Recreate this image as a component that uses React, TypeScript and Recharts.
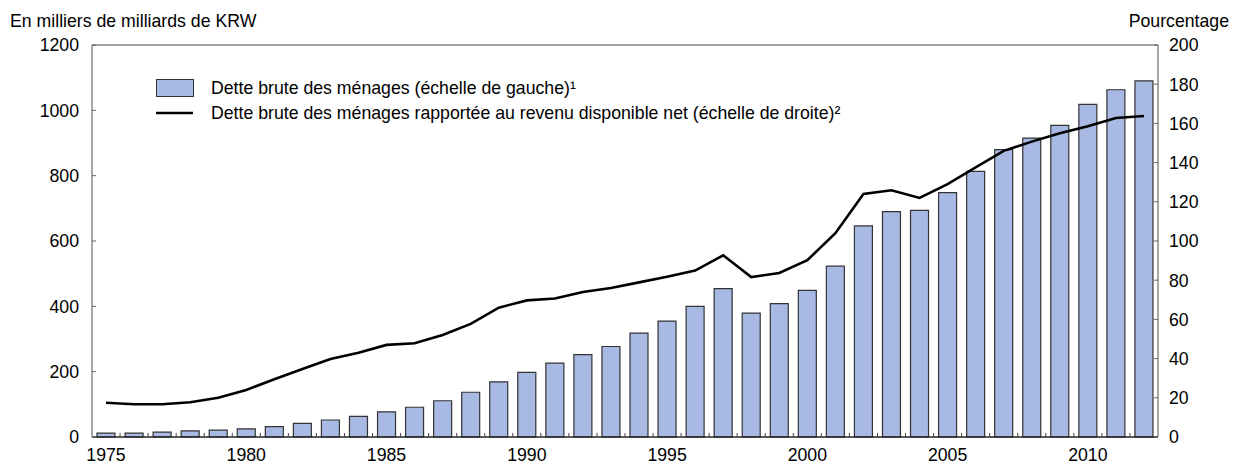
import React from 'react';
import { ComposedChart, Bar, Line, XAxis, YAxis, ReferenceLine, Legend } from 'recharts';

const years = [1975, 1976, 1977, 1978, 1979, 1980, 1981, 1982, 1983, 1984, 1985, 1986, 1987, 1988, 1989, 1990, 1991, 1992, 1993, 1994, 1995, 1996, 1997, 1998, 1999, 2000, 2001, 2002, 2003, 2004, 2005, 2006, 2007, 2008, 2009, 2010, 2011, 2012];
const debt = [12, 12, 15, 19, 21, 25, 32, 42, 52, 63, 77, 91, 111, 137, 169, 198, 226, 252, 277, 318, 355, 400, 454, 379, 408, 449, 523, 646, 690, 694, 748, 813, 880, 915, 954, 1018, 1063, 1090];
const ratio = [17.5, 16.7, 16.7, 17.7, 20, 24, 29.5, 34.7, 39.8, 43, 47, 47.8, 52, 57.7, 66, 69.7, 70.7, 74, 76, 78.9, 81.8, 84.9, 92.7, 81.6, 83.7, 90.2, 104, 124, 125.9, 122, 129, 137.6, 146, 150.7, 155, 158.5, 162.8, 163.8];
const leftTicks = [0, 200, 400, 600, 800, 1000, 1200];
const rightTicks = [0, 20, 40, 60, 80, 100, 120, 140, 160, 180, 200];

const barName = 'Dette brute des ménages (échelle de gauche)¹';
const lineName = 'Dette brute des ménages rapportée au revenu disponible net (échelle de droite)²';
const leftTitle = 'En milliers de milliards de KRW';
const rightTitle = 'Pourcentage';

const data = years.map((y, i) => ({ year: y, debt: debt[i], ratio: ratio[i] }));

const W = 1234;
const H = 464;
const LEFT_W = 92;
const RIGHT_W = 76;
const TOP = 45;
const XAXIS_H = 27;
const HALF_BAND = (W - LEFT_W - RIGHT_W) / years.length / 2;
const FONT = '"Liberation Sans", Arial, sans-serif';
const FS = 17.7;

const XTick = (props: any) => {
  const { x, y, payload, index } = props;
  return (
    <g>
      {index > 0 && (
        <line x1={x - HALF_BAND} x2={x - HALF_BAND} y1={y} y2={y - 4} stroke="#444" strokeWidth={1} />
      )}
      {payload.value % 5 === 0 && (
        <text x={x} y={y + 24} textAnchor="middle" fontSize={FS} fill="#000" fontFamily={FONT}>
          {payload.value}
        </text>
      )}
    </g>
  );
};

const LeftTick = (props: any) => {
  const { x, y, payload } = props;
  return (
    <g>
      <line x1={x} x2={x + 4} y1={y} y2={y} stroke="#666" strokeWidth={1} />
      <text x={x - 13} y={y} dy="0.36em" textAnchor="end" fontSize={FS} fill="#000" fontFamily={FONT}>
        {payload.value}
      </text>
    </g>
  );
};

const RightTick = (props: any) => {
  const { x, y, payload } = props;
  return (
    <g>
      <line x1={x} x2={x - 4} y1={y} y2={y} stroke="#666" strokeWidth={1} />
      <text x={x + 11} y={y} dy="0.36em" textAnchor="start" fontSize={FS} fill="#000" fontFamily={FONT}>
        {payload.value}
      </text>
    </g>
  );
};

const LegendContent = (props: any) => {
  const items = props.payload || [];
  const barItem = items.find((p: any) => p.dataKey === 'debt');
  const lineItem = items.find((p: any) => p.dataKey === 'ratio');
  return (
    <div style={{ fontFamily: FONT, fontSize: FS, lineHeight: '18px', color: '#000' }}>
      <div style={{ display: 'flex', alignItems: 'center', height: 18, marginBottom: 7 }}>
        <svg width={38} height={18} style={{ display: 'block' }}>
          <rect x={0.5} y={0.5} width={37} height={17} fill="#A8B9E4" stroke="#333" strokeWidth={1} />
        </svg>
        <span style={{ marginLeft: 17, whiteSpace: 'nowrap' }}>{barItem ? barItem.value : barName}</span>
      </div>
      <div style={{ display: 'flex', alignItems: 'center', height: 18 }}>
        <svg width={38} height={18} style={{ display: 'block' }}>
          <line x1={0} x2={37} y1={9} y2={9} stroke="#000" strokeWidth={2.5} />
        </svg>
        <span style={{ marginLeft: 17, whiteSpace: 'nowrap' }}>{lineItem ? lineItem.value : lineName}</span>
      </div>
    </div>
  );
};

export default function App() {
  return (
    <div style={{ position: 'absolute', left: 0, top: 0, width: W, height: H, background: '#fff', fontFamily: FONT }}>
      <div style={{ position: 'absolute', left: 10, top: 12, fontSize: FS, lineHeight: '18px', whiteSpace: 'nowrap' }}>
        {leftTitle}
      </div>
      <div style={{ position: 'absolute', right: 5, top: 12, fontSize: FS, lineHeight: '18px', whiteSpace: 'nowrap', textAlign: 'right' }}>
        {rightTitle}
      </div>
      <ComposedChart width={W} height={H} data={data} margin={{ top: TOP, right: 0, bottom: 0, left: 0 }}>
        <XAxis
          dataKey="year"
          xAxisId="x"
          type="category"
          interval={0}
          height={XAXIS_H}
          tickLine={false}
          tickSize={0}
          tickMargin={0}
          axisLine={{ stroke: '#222', strokeWidth: 1.3 }}
          tick={<XTick />}
        />
        <YAxis
          yAxisId="left"
          orientation="left"
          width={LEFT_W}
          domain={[0, 1200]}
          ticks={leftTicks}
          interval={0}
          tickLine={false}
          tickSize={0}
          tickMargin={0}
          axisLine={{ stroke: '#777', strokeWidth: 1.3 }}
          tick={<LeftTick />}
        />
        <YAxis
          yAxisId="right"
          orientation="right"
          width={RIGHT_W}
          domain={[0, 200]}
          ticks={rightTicks}
          interval={0}
          tickLine={false}
          tickSize={0}
          tickMargin={0}
          axisLine={{ stroke: '#777', strokeWidth: 1.3 }}
          tick={<RightTick />}
        />
        <ReferenceLine xAxisId="x" yAxisId="left" y={1200} stroke="#444" strokeWidth={1} />
        <Legend
          layout="horizontal"
          verticalAlign="middle"
          align="center"
          content={<LegendContent />}
          wrapperStyle={{ position: 'absolute', left: 156, top: 79, width: 'auto', height: 'auto' }}
        />
        <Bar
          xAxisId="x"
          yAxisId="left"
          dataKey="debt"
          name={barName}
          barSize={18}
          fill="#A8B9E4"
          stroke="#333"
          strokeWidth={1.2}
          isAnimationActive={false}
        />
        <Line
          xAxisId="x"
          yAxisId="right"
          dataKey="ratio"
          name={lineName}
          type="linear"
          stroke="#000"
          strokeWidth={2.6}
          dot={false}
          activeDot={false}
          isAnimationActive={false}
        />
      </ComposedChart>
    </div>
  );
}
